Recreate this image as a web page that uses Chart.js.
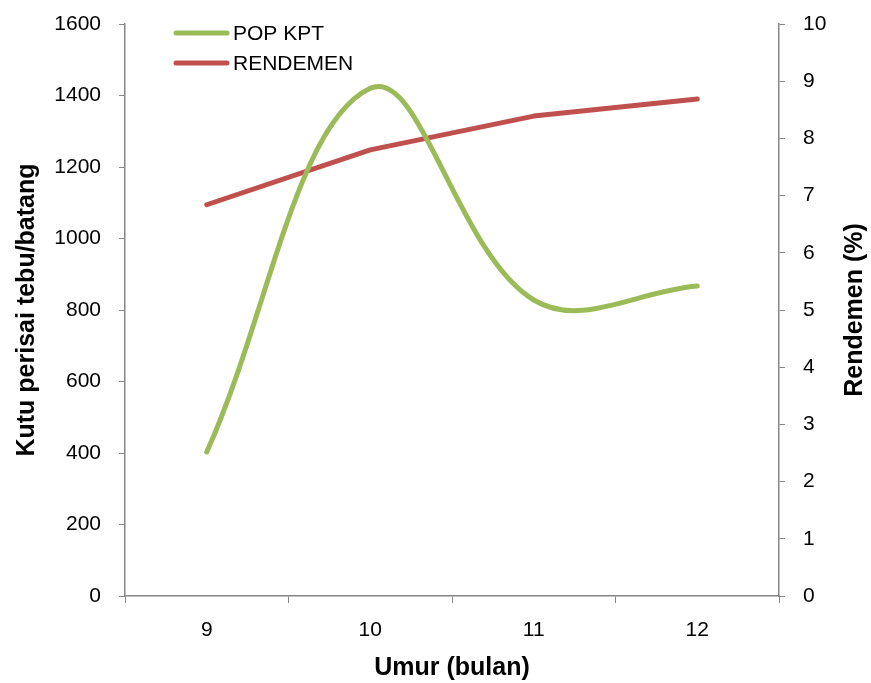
<!DOCTYPE html>
<html>
<head>
<meta charset="utf-8">
<script src="https://cdn.jsdelivr.net/npm/chart.js@4.4.1/dist/chart.umd.min.js"></script>
<style>
  html, body { margin: 0; padding: 0; background: #fff; }
  #wrap { width: 871px; height: 683px; }
</style>
</head>
<body>
<div id="wrap"><canvas id="chart" width="871" height="683"></canvas></div>
<script>
const umur = ['9', '10', '11', '12'];
const popKpt = [403, 1420, 828, 867];
const rendemen = [6.84, 7.8, 8.39, 8.69];

const axisGrey = '#868686';
const fontFam = '"Liberation Sans", Arial, sans-serif';

// legend drawn inside the plot, top-left, like the original
const insideLegend = {
    id: 'insideLegend',
    afterDraw(chart) {
        const c = chart.ctx;
        c.save();
        chart.data.datasets.forEach((ds, i) => {
            const y = 33 + i * 30;
            c.strokeStyle = ds.borderColor;
            c.lineWidth = 5;
            c.lineCap = 'round';
            c.beginPath();
            c.moveTo(176, y);
            c.lineTo(227, y);
            c.stroke();
            c.fillStyle = '#000';
            c.font = '21px ' + fontFam;
            c.textBaseline = 'middle';
            c.fillText(ds.label, 233, y + 1);
        });
        // right axis title reads bottom-to-top in the original
        const a = chart.chartArea;
        c.translate(855, (a.top + a.bottom) / 2);
        c.rotate(-Math.PI / 2);
        c.textAlign = 'center';
        c.textBaseline = 'middle';
        c.font = 'bold 25px ' + fontFam;
        c.fillText('Rendemen (%)', 0, 0);
        c.restore();
    }
};

const plain = v => String(v);

const ctx = document.getElementById('chart').getContext('2d');
new Chart(ctx, {
    type: 'line',
    data: {
        labels: umur,
        datasets: [
            {
                label: 'POP KPT',
                data: popKpt,
                yAxisID: 'y',
                borderColor: '#9BBB59',
                borderWidth: 5,
                tension: 0.38,
                pointRadius: 0,
                borderCapStyle: 'round'
            },
            {
                label: 'RENDEMEN',
                data: rendemen,
                yAxisID: 'y1',
                borderColor: '#C0504D',
                borderWidth: 5,
                tension: 0,
                pointRadius: 0,
                borderCapStyle: 'round',
                borderJoinStyle: 'round'
            }
        ]
    },
    options: {
        responsive: false,
        animation: false,
        layout: { padding: { top: 24, left: 0, right: 0, bottom: 0 } },
        plugins: {
            legend: { display: false },
            tooltip: { enabled: false }
        },
        scales: {
            x: {
                offset: true,
                grid: { offset: true, drawOnChartArea: false, color: axisGrey, tickLength: 7 },
                border: { color: axisGrey, width: 1.5 },
                ticks: { color: '#000', padding: 15, font: { family: fontFam, size: 21 } },
                title: {
                    display: true, text: 'Umur (bulan)', color: '#000',
                    font: { family: fontFam, size: 25, weight: 'bold' },
                    padding: { top: 4, bottom: 0 }
                },
                afterFit(s) { s.height = 87; s.paddingLeft = 0; s.paddingRight = 0; }
            },
            y: {
                position: 'left',
                min: 0, max: 1600,
                ticks: { stepSize: 200, color: '#000', padding: 18, callback: plain, font: { family: fontFam, size: 21 } },
                grid: { drawOnChartArea: false, color: axisGrey, tickLength: 6 },
                border: { color: axisGrey, width: 1.5 },
                title: {
                    display: true, text: 'Kutu perisai tebu/batang', color: '#000',
                    font: { family: fontFam, size: 25, weight: 'bold' },
                    padding: { top: 12, bottom: 0 }
                },
                afterFit(s) { s.width = 125; s.paddingTop = 0; s.paddingBottom = 0; }
            },
            y1: {
                position: 'right',
                min: 0, max: 10,
                ticks: { stepSize: 1, color: '#000', padding: 18, callback: plain, font: { family: fontFam, size: 21 } },
                grid: { drawOnChartArea: false, color: axisGrey, tickLength: 6 },
                border: { color: axisGrey, width: 1.5 },
                afterFit(s) { s.width = 92; s.paddingTop = 0; s.paddingBottom = 0; }
            }
        }
    },
    plugins: [insideLegend]
});
</script>
</body>
</html>
